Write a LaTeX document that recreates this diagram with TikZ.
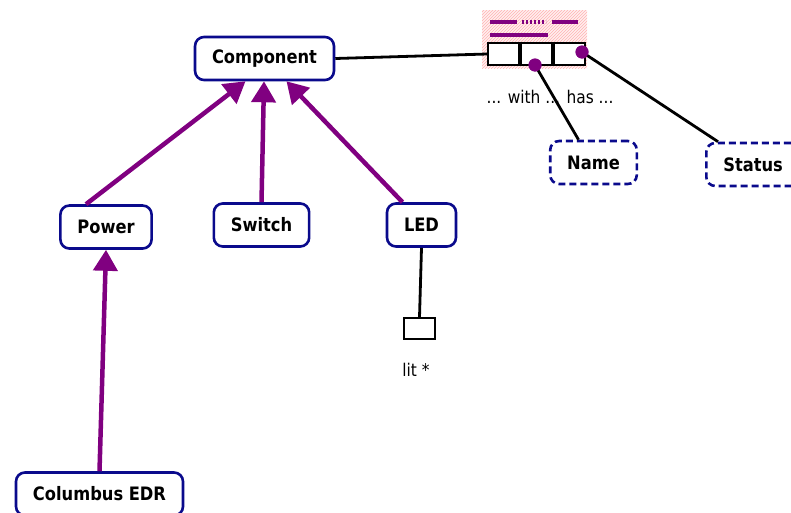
\documentclass[tikz,border=0pt]{standalone}
\usepackage{fontspec}
\setmainfont{DejaVu Sans}[FakeStretch=0.88]
\usetikzlibrary{arrows.meta,patterns}
\definecolor{boxblue}{HTML}{0A0A8C}
\definecolor{arrowpurple}{HTML}{800080}
\tikzset{
  entity/.style={draw=boxblue, line width=2.6pt, rounded corners=9pt, fill=white,
    minimum height=43pt, inner xsep=17pt, font=\fontsize{18.5}{21}\selectfont\bfseries},
  attr/.style={entity, dashed, dash pattern=on 7pt off 4pt},
  isa/.style={draw=arrowpurple, line width=4.5pt, -{Triangle[length=21pt,width=24pt]}},
  link/.style={draw=black, line width=2.8pt},
  cell/.style={draw=black, fill=white, line width=2pt, minimum width=31pt, minimum height=22pt, inner sep=0pt},
  dot/.style={circle, fill=arrowpurple, minimum size=13pt, inner sep=0pt},
  bar/.style={draw=arrowpurple, line width=3.2pt},
  plain/.style={font=\fontsize{17.5}{20}\selectfont}
}
\begin{document}
\begin{tikzpicture}[x=1pt,y=-1pt]
\useasboundingbox (0,0) rectangle (791,512);

% entity boxes
\node[entity] (comp) at (264.5,58.5) {Component};
\node[entity] (power) at (106,227) {Power};
\node[entity] (switch) at (261.5,225) {Switch};
\node[entity] (led) at (421.5,225) {LED};
\node[entity] (edr) at (99.5,494) {Columbus EDR};

% attribute boxes
\node[attr] (name) at (593.5,162.5) {Name};
\node[attr, anchor=west] (status) at (705,164.5) {Status};

% relation table with hatched backdrop
\fill[red!6] (482,10) rectangle (587,68);
\fill[pattern=north east lines, pattern color=red!30] (482,10) rectangle (587,68);
\draw[bar] (490,22) -- (517,22);
\draw[bar, dash pattern=on 2pt off 2pt] (522,22) -- (546,22);
\draw[bar] (552,22) -- (578,22);
\draw[bar] (490,35) -- (548,35);
\node[cell] (c1) at (503.5,54) {};
\node[cell, anchor=west] (c2) at (c1.east) {};
\node[cell, anchor=west] (c3) at (c2.east) {};
\node[plain] (rel) at (550,97) {... with ... has ...};

% flag for LED
\node[draw=black, fill=white, line width=2pt, minimum width=31pt, minimum height=21pt, inner sep=0pt] (flag) at (419.5,328.5) {};
\node[plain] (flagtxt) at (416,370) {lit *};

% connectors
\draw[link] (comp.east) -- (c1.west);
\draw[link] (led.south) -- (flag.north);
\node[dot] (d1) at (535,65) {};
\node[dot] (d2) at (582,52) {};
\draw[link] (d1.center) -- ([xshift=-15pt]name.north);
\draw[link] (d2.center) -- ([xshift=13pt]status.north west);
\node[dot] at (535,65) {};
\node[dot] at (582,52) {};

% generalisation arrows
\draw[isa] ([xshift=-20pt]power.north) -- ([xshift=-19pt]comp.south);
\draw[isa] (switch.north) -- ([xshift=-0.5pt]comp.south);
\draw[isa] ([xshift=-19pt]led.north) -- ([xshift=22pt]comp.south);
\draw[isa] (edr.north) -- (power.south);
\end{tikzpicture}
\end{document}
